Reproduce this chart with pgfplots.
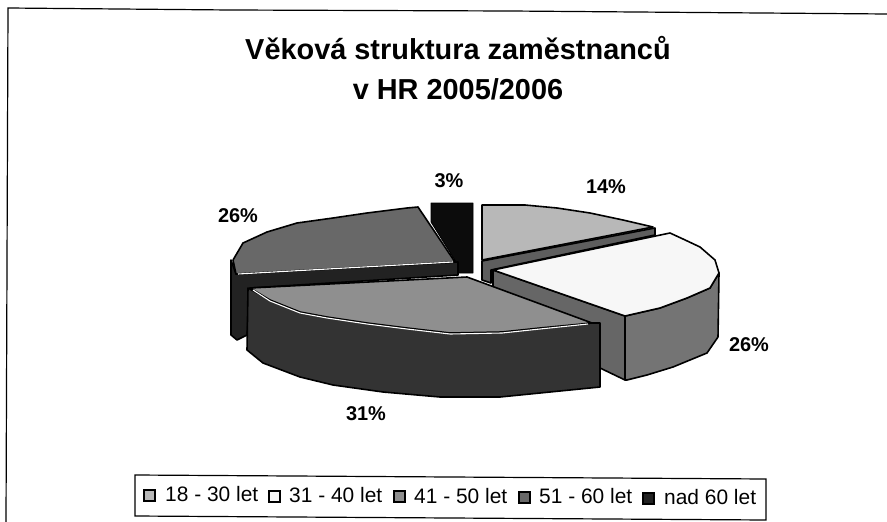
\documentclass[border=0pt]{standalone}
\usepackage{fontspec}
\setmainfont{Liberation Sans}
\usepackage{pgfplots}
\pgfplotsset{compat=1.18}

\definecolor{topA}{HTML}{B8B8B8}
\definecolor{topB}{HTML}{F7F7F7}
\definecolor{topC}{HTML}{8F8F8F}
\definecolor{topD}{HTML}{686868}
\definecolor{sideA}{HTML}{5E5E5E}
\definecolor{sideB}{HTML}{747474}
\definecolor{sideB2}{HTML}{666666}
\definecolor{sideC}{HTML}{333333}
\definecolor{sideD}{HTML}{222222}
\definecolor{blk}{HTML}{0C0C0C}

\pgfplotsset{
  face/.style={draw=black, line width=1.6pt, line join=round, fill=#1, mark=none, forget plot},
  swatch/.style={draw=black, line width=2.2pt, line join=miter, fill=#1, mark=none, forget plot},
  rim/.style={draw=#1, line width=1.1pt, line join=round, mark=none, forget plot},
}

\begin{document}
\begin{tikzpicture}
\begin{axis}[
    width=887bp, height=522bp, scale only axis,
    xmin=0, xmax=887, ymin=0, ymax=522,
    y dir=reverse,
    hide axis,
    clip=true,
]
% keeps the whole page in the bounding box
\addplot[fill=white, draw=none, mark=none, forget plot] coordinates {(0,0) (887,0) (887,522) (0,522)} -- cycle;

% page frame, only top and left survive in the scan
\addplot[draw=black, line width=1.2pt, mark=none, forget plot] coordinates {(6,522) (8,8) (230,10) (510,11) (887,14)};

% nad 60 let
\addplot[face=blk, line width=0.8pt] coordinates {(431,203) (473,203) (473,273) (456,273) (456,262) (431,222)} -- cycle;

% 51 - 60 let
\addplot[face=sideD] coordinates {(231,260) (231,335) (237,340) (247,335) (250,288) (458,275) (458,262) (236,274)} -- cycle;
\addplot[face=topD] coordinates {(418,207) (407,208) (367,213) (333,218) (297,223) (267,232) (243,243) (233,260) (236,274) (455,262)} -- cycle;
\addplot[rim=white] coordinates {(238,274) (453,262)};

% 18 - 30 let
\addplot[face=sideA] coordinates {(482,261) (655,228) (655,235) (491,270) (491,283) (482,280)} -- cycle;
\addplot[face=topA] coordinates {(482,205) (525,205) (557,208) (590,213) (623,220) (653,227) (482,260)} -- cycle;

% 31 - 40 let
\addplot[face=sideB2] coordinates {(493,270) (625,316) (625,380) (600,368) (493,310)} -- cycle;
\addplot[face=sideB] coordinates {(625,316) (660,308) (687,298) (710,288) (719,273) (718,337) (707,353) (673,367) (647,375) (627,380) (625,380)} -- cycle;
\addplot[face=topB] coordinates {(493,270) (670,233) (683,239) (700,247) (715,260) (719,273) (710,288) (687,298) (660,308) (625,316)} -- cycle;

% 41 - 50 let
\addplot[face=sideC] coordinates {(248,288) (247,350) (263,363) (300,377) (333,385) (383,392) (440,397) (500,397) (540,393) (600,387) (600,323) (592,323) (540,328) (502,332) (450,333) (407,328) (367,323) (327,317) (300,312) (270,300)} -- cycle;
\addplot[face=topC] coordinates {(250,288) (467,277) (592,323) (540,328) (502,332) (450,333) (407,328) (367,323) (327,317) (300,312) (270,300)} -- cycle;
\addplot[rim=white] coordinates {(253,290) (270,301) (300,313) (327,318) (367,324) (407,329) (450,334) (502,333) (540,329) (588,324)};

% legend frame and swatches, the scan is slightly tilted
\addplot[draw=black, line width=1.2pt, mark=none, forget plot] coordinates {(135,475) (766,479) (766,520) (135,516)} -- cycle;
\addplot[swatch=topA] coordinates {(144,490) (155,490) (155,501) (144,501)} -- cycle;
\addplot[swatch=topB] coordinates {(269,491) (280,491) (280,502) (269,502)} -- cycle;
\addplot[swatch=topC] coordinates {(394,491) (405,491) (405,502) (394,502)} -- cycle;
\addplot[swatch=topD] coordinates {(519,492) (530,492) (530,503) (519,503)} -- cycle;
\addplot[swatch=sideD] coordinates {(643,493) (654,493) (654,504) (643,504)} -- cycle;

% title
\node[font=\fontsize{29}{34}\selectfont\bfseries] at (axis cs:458,48) {Věková struktura zaměstnanců};
\node[font=\fontsize{29}{34}\selectfont\bfseries] at (axis cs:458,89) {v HR 2005/2006};

% data labels
\node[font=\fontsize{20}{24}\selectfont\bfseries] at (axis cs:606,187) {14\%};
\node[font=\fontsize{20}{24}\selectfont\bfseries] at (axis cs:449,181) {3\%};
\node[font=\fontsize{20}{24}\selectfont\bfseries] at (axis cs:238,216) {26\%};
\node[font=\fontsize{20}{24}\selectfont\bfseries] at (axis cs:749,345) {26\%};
\node[font=\fontsize{20}{24}\selectfont\bfseries] at (axis cs:366,414) {31\%};

% legend text
\node[font=\fontsize{21}{25}\selectfont, anchor=west, inner sep=0pt] at (axis cs:165,494) {18 - 30 let};
\node[font=\fontsize{21}{25}\selectfont, anchor=west, inner sep=0pt] at (axis cs:289,495) {31 - 40 let};
\node[font=\fontsize{21}{25}\selectfont, anchor=west, inner sep=0pt] at (axis cs:414,496) {41 - 50 let};
\node[font=\fontsize{21}{25}\selectfont, anchor=west, inner sep=0pt] at (axis cs:539,496) {51 - 60 let};
\node[font=\fontsize{21}{25}\selectfont, anchor=west, inner sep=0pt] at (axis cs:664,497) {nad 60 let};
\end{axis}
\end{tikzpicture}
\end{document}
